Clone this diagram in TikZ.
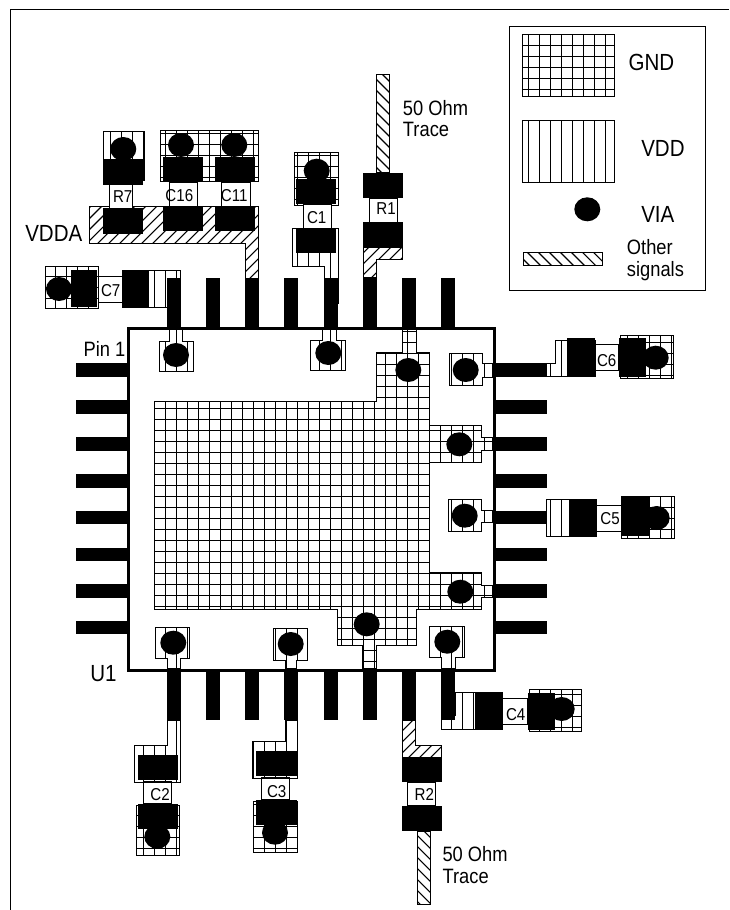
\documentclass[tikz,border=0pt]{standalone}
\usepackage{fontspec}
\setmainfont[FakeStretch=0.88]{Liberation Sans}

\tikzset{
  pad/.style={fill=black},
  body/.style={draw=black,fill=white,line width=0.8},
  via/.style={fill=black},
  hair/.style={line width=0.8},
  biglab/.style={anchor=base west,inner sep=0pt,font=\fontsize{17.5}{20}\selectfont},
  midlab/.style={anchor=base west,inner sep=0pt,font=\fontsize{15.6}{18}\selectfont},
  partlab/.style={inner sep=0pt,font=\fontsize{12.9}{15}\selectfont}
}

% cross hatched copper, pitch 11
\newcommand{\gndfill}[1]{%
  \begin{scope}
    \clip #1;
    \foreach \k in {0,...,66} \draw[hair] (\k*11+0.5,0) -- (\k*11+0.5,910);
    \foreach \k in {0,...,82} \draw[hair] (0,\k*11+1.5) -- (729,\k*11+1.5);
  \end{scope}
  \draw[hair] #1;}
% vertical lines
\newcommand{\vddfill}[1]{%
  \begin{scope}
    \clip #1;
    \foreach \k in {0,...,66} \draw[hair] (\k*11+0.5,0) -- (\k*11+0.5,910);
  \end{scope}
  \draw[hair] #1;}
% slanted lines, forward
\newcommand{\sigfwd}[1]{%
  \begin{scope}
    \clip #1;
    \foreach \k in {0,...,150} \draw[hair] (\k*11,0) -- (\k*11-910,910);
  \end{scope}
  \draw[hair] #1;}
% slanted lines, backward
\newcommand{\sigback}[1]{%
  \begin{scope}
    \clip #1;
    \foreach \k in {-83,...,67} \draw[hair] (\k*11,0) -- (\k*11+910,910);
  \end{scope}
  \draw[hair] #1;}

\begin{document}
\begin{tikzpicture}[x=0.75pt,y=0.75pt,yscale=-1]
  \useasboundingbox (0,0) rectangle (729,910);

  %Page frame
  \draw[line width=1.1] (729,9.5) -- (10.5,9.5) -- (10.5,910);

  %Legend
  \draw[line width=1.1] (509.5,26.5) rectangle (705.5,290.5);
  \gndfill{(522.5,34.5) rectangle (614.5,96.5)}
  \vddfill{(522.5,120.5) rectangle (614.5,182.5)}
  \sigback{(523.5,252.5) rectangle (602.5,265.5)}
  \node[biglab] (legGnd) at (628.3,70.7) {GND};
  \node[biglab] (legVdd) at (641,156.7) {VDD};
  \node[biglab] (legVia) at (641,222.7) {VIA};
  \node[midlab] (legOther) at (626.7,254.3) {Other};
  \node[midlab] (legSignals) at (626.7,276) {signals};

  %Ground plane
  \gndfill{(154.5,401.5) -- (376.5,401.5) -- (376.5,352.5) -- (402.5,352.5) -- (402.5,329) -- (416.5,329) -- (416.5,352.5) -- (429.5,352.5) -- (429.5,425.5) -- (481.5,425.5) -- (481.5,437.5) -- (492.7,437.5) -- (492.7,450.5) -- (481.5,450.5) -- (481.5,462.5) -- (429.5,462.5) -- (429.5,572.5) -- (481.5,572.5) -- (481.5,585.5) -- (492.7,585.5) -- (492.7,597.5) -- (481.5,597.5) -- (481.5,609.5) -- (416.5,609.5) -- (416.5,645.5) -- (376.5,645.5) -- (376.5,669) -- (362.5,669) -- (362.5,645.5) -- (337.5,645.5) -- (337.5,609.5) -- (154.5,609.5) -- cycle}

  %Supply stubs inside the package
  \vddfill{(169.5,329) -- (182.5,329) -- (182.5,341.5) -- (193.5,341.5) -- (193.5,371.5) -- (159.5,371.5) -- (159.5,341.5) -- (169.5,341.5) -- cycle}
  \vddfill{(322.5,329) -- (336.5,329) -- (336.5,340.5) -- (345.5,340.5) -- (345.5,370.5) -- (310.5,370.5) -- (310.5,340.5) -- (322.5,340.5) -- cycle}
  \vddfill{(449.5,353.5) -- (482.5,353.5) -- (482.5,363.5) -- (492.7,363.5) -- (492.7,377.5) -- (482.5,377.5) -- (482.5,385.5) -- (449.5,385.5) -- cycle}
  \vddfill{(448.5,499.5) -- (481.5,499.5) -- (481.5,510.5) -- (492.7,510.5) -- (492.7,522.5) -- (481.5,522.5) -- (481.5,531.5) -- (448.5,531.5) -- cycle}
  \vddfill{(429.5,626.5) -- (464.5,626.5) -- (464.5,657.5) -- (455.5,657.5) -- (455.5,669) -- (441.5,669) -- (441.5,657.5) -- (429.5,657.5) -- cycle}
  \vddfill{(273.5,628.5) -- (307.5,628.5) -- (307.5,660.5) -- (296.5,660.5) -- (296.5,669) -- (285.5,669) -- (285.5,660.5) -- (273.5,660.5) -- cycle}
  \vddfill{(155.5,627.5) -- (189.5,627.5) -- (189.5,658.5) -- (180.5,658.5) -- (180.5,669) -- (167.5,669) -- (167.5,658.5) -- (155.5,658.5) -- cycle}

  %Copper below the parts
  \vddfill{(103.5,131.5) rectangle (144.5,180.5)}
  \gndfill{(160.5,130.5) rectangle (258.5,181.5)}
  \sigfwd{(89.5,206.5) -- (258.5,206.5) -- (258.5,279) -- (245.5,279) -- (245.5,243.5) -- (89.5,243.5) -- cycle}
  \gndfill{(294.5,152.5) rectangle (338.5,205.5)}
  \vddfill{(292.5,228.5) -- (338.5,228.5) -- (338.5,303) -- (324.5,303) -- (324.5,266.5) -- (292.5,266.5) -- cycle}
  \sigfwd{(363.5,247.5) -- (402.5,247.5) -- (402.5,259.5) -- (376.5,259.5) -- (376.5,278) -- (363.5,278) -- cycle}
  \sigback{(376.5,74.5) rectangle (389.5,172.7)}
  \gndfill{(45.5,266.5) rectangle (98.5,308.5)}
  \vddfill{(122.5,270.5) -- (180.5,270.5) -- (180.5,307.5) -- (122.5,307.5) -- cycle}
  \vddfill{(555.5,340.5) -- (595.5,340.5) -- (595.5,376.5) -- (546.5,376.5) -- (546.5,363.5) -- (555.5,363.5) -- cycle}
  \gndfill{(620.5,335.5) rectangle (673.5,378.5)}
  \vddfill{(546.5,499.5) rectangle (596.5,536.5)}
  \gndfill{(621.5,496.5) rectangle (674.5,538.5)}
  \vddfill{(455.5,692.5) -- (502.5,692.5) -- (502.5,729.5) -- (441.5,729.5) -- (441.5,715) -- (455.5,715) -- cycle}
  \gndfill{(529.5,689.5) rectangle (581.5,731.5)}
  \vddfill{(167.5,720) -- (180.5,720) -- (180.5,782.5) -- (134.5,782.5) -- (134.5,745.5) -- (167.5,745.5) -- cycle}
  \gndfill{(136.5,805.5) rectangle (179.5,855.5)}
  \vddfill{(285.5,720) -- (297.5,720) -- (297.5,778.5) -- (252.5,778.5) -- (252.5,741.5) -- (285.5,741.5) -- cycle}
  \gndfill{(253.5,801.5) rectangle (297.5,852.5)}
  \sigfwd{(402.5,720) -- (415.5,720) -- (415.5,745.5) -- (441.5,745.5) -- (441.5,757.5) -- (402.5,757.5) -- cycle}
  \sigback{(417.5,831) rectangle (430.5,904.5)}

  %Package pins
  \foreach \x in {174,213,252.3,291.3,330.7,370,409,448}{
    \fill[pad] (\x-7,278) rectangle (\x+7,328);
    \fill[pad] (\x-7,670) rectangle (\x+7,720);
  }
  \foreach \y in {370,407,444,481,517.5,554.5,591,627.5}{
    \fill[pad] (75.5,\y-6.7) rectangle (128,\y+6.7);
    \fill[pad] (494,\y-6.7) rectangle (547,\y+6.7);
  }
  \fill[pad] (324,278) rectangle (338.7,303);

  %Package outline
  \draw[line width=2.25] (128,328) rectangle (494,670);

  %Part bodies
  \draw[body] (109.5,184.7) rectangle (132.5,208.3);
  \draw[body] (169.5,182) rectangle (197.5,206.3);
  \draw[body] (221.5,182) rectangle (250.5,206.3);
  \draw[body] (303.5,204.3) rectangle (331.5,228.3);
  \draw[body] (369.5,198.3) rectangle (397.5,222.3);
  \draw[body] (98.3,276.5) rectangle (122.7,302.5);
  \draw[body] (595,344.5) rectangle (619,370.5);
  \draw[body] (596.3,505.5) rectangle (621.7,531.5);
  \draw[body] (502.3,698.5) rectangle (528,724.5);
  \draw[body] (143.5,782) rectangle (171.5,804);
  \draw[body] (261.5,778) rectangle (289.5,800);
  \draw[body] (407.5,782.3) rectangle (435.5,806);

  %Part pads
  \fill[pad] (103,159.3) rectangle (143.3,184.7);
  \fill[pad] (103,208.3) rectangle (143.3,233.7);
  \fill[pad] (163,157) rectangle (203,182);
  \fill[pad] (163,206.3) rectangle (203,231.3);
  \fill[pad] (215,157) rectangle (255,182);
  \fill[pad] (215,206.3) rectangle (255,231.3);
  \fill[pad] (296,179.3) rectangle (336.3,204.3);
  \fill[pad] (296,228.3) rectangle (336.3,253.3);
  \fill[pad] (362.7,172.7) rectangle (403,198.3);
  \fill[pad] (362.7,222.3) rectangle (403,247.3);
  \fill[pad] (70.7,270) rectangle (97.3,307.3);
  \fill[pad] (122.7,270) rectangle (149.3,307.3);
  \fill[pad] (566.7,338.3) rectangle (595,376.7);
  \fill[pad] (619,338.3) rectangle (646,376.7);
  \fill[pad] (569.3,499) rectangle (596.3,536);
  \fill[pad] (621.7,497) rectangle (648.7,536);
  \fill[pad] (475,692.7) rectangle (502.3,729.3);
  \fill[pad] (528,692.7) rectangle (554.7,730);
  \fill[pad] (138,755) rectangle (178.3,780);
  \fill[pad] (138,804) rectangle (178.3,829);
  \fill[pad] (255.7,751.3) rectangle (296.7,776.3);
  \fill[pad] (255.7,800) rectangle (296.7,825);
  \fill[pad] (402.3,757.3) rectangle (442,782.3);
  \fill[pad] (402.3,806) rectangle (442,831);

  %Vias
  \foreach \x/\y in {587.3/209.3,123.3/149,181/145,234.3/145,316.7/170.7,59/289,176/355,328.3/353,408.3/370,465.7/370,655.7/357.7,459.3/444.3,464.7/515.7,460.3/591.7,656.7/518,561.7/709,447.3/641.7,366.7/624.3,290.7/644,173.3/642.7,157.3/836.7,275/832.7}
    \fill[via] (\x,\y) circle [x radius=13, y radius=12];

  % Text Node
  \node[partlab] (labR7) at (122.7,196.7) {R7};
  \node[partlab] (labC16) at (179.3,195.7) {C16};
  \node[partlab] (labC11) at (234.3,195.7) {C11};
  \node[partlab] (labC1) at (316.7,217.3) {C1};
  \node[partlab] (labR1) at (386,208.3) {R1};
  \node[partlab] (labC7) at (110.7,290.7) {C7};
  \node[partlab] (labC6) at (606.7,360.7) {C6};
  \node[partlab] (labC5) at (610,518.3) {C5};
  \node[partlab] (labC4) at (515.7,715) {C4};
  \node[partlab] (labC2) at (160,795) {C2};
  \node[partlab] (labC3) at (276.7,791.7) {C3};
  \node[partlab] (labR2) at (424.3,794) {R2};

  \node[biglab] (labVdda) at (25,241) {VDDA};
  \node[biglab] (labU) at (90,681.7) {U1};
  \node[midlab] (labPin) at (83.3,356) {Pin 1};
  \node[midlab] (traceTopA) at (402.7,115) {50 Ohm};
  \node[midlab] (traceTopB) at (402.7,136.7) {Trace};
  \node[midlab] (traceBotA) at (442.3,861.7) {50 Ohm};
  \node[midlab] (traceBotB) at (442.3,883.3) {Trace};
\end{tikzpicture}
\end{document}
